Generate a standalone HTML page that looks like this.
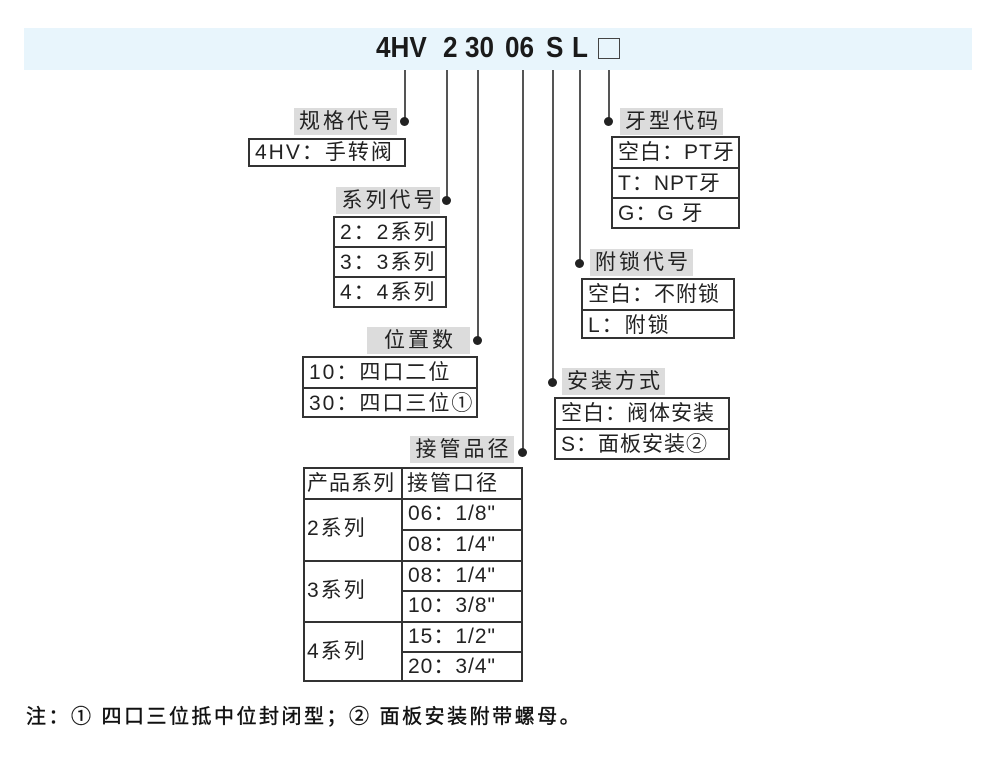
<!DOCTYPE html>
<html><head><meta charset="utf-8"><style>
body{margin:0;width:994px;height:769px;background:#fff;position:relative;overflow:hidden;font-family:"Liberation Sans","Noto Sans CJK SC",sans-serif;color:#222}
div{position:absolute;box-sizing:border-box}
.h{top:30px;font-weight:bold;font-size:29px;line-height:36px;color:#1a1a1a;transform-origin:left;transform:scaleX(0.9)}
.v{width:2px;background:#555}
.dot{width:9px;height:9px;border-radius:50%;background:#222}
.lab{background:#dcdcdc;font-size:21px;line-height:27px;text-align:center;letter-spacing:3px;padding-left:3px}
.box{border:2px solid #333;background:#fff}
.r{position:absolute;left:0;right:0;font-size:21px;line-height:29px;padding-left:5px;white-space:nowrap;border-top:2px solid #333;letter-spacing:2px}
.r.f{border-top:none}
.t{letter-spacing:1px}
</style></head><body>
<div style="left:24px;top:28px;width:948px;height:42px;background:#e8f5fc"></div>
<div class="h" style="left:376px">4HV</div>
<div class="h" style="left:443px">2</div>
<div class="h" style="left:465px">30</div>
<div class="h" style="left:505px">06</div>
<div class="h" style="left:546px">S</div>
<div class="h" style="left:572px">L</div>
<div style="left:598px;top:38px;width:22px;height:21px;border:1.5px solid #444"></div>

<div class="v" style="left:404px;top:70px;height:51px"></div>
<div class="v" style="left:446px;top:70px;height:130px"></div>
<div class="v" style="left:477px;top:70px;height:270px"></div>
<div class="v" style="left:522px;top:70px;height:382px"></div>
<div class="v" style="left:552px;top:70px;height:312px"></div>
<div class="v" style="left:579px;top:70px;height:193px"></div>
<div class="v" style="left:608px;top:70px;height:51px"></div>

<div class="dot" style="left:400px;top:117px"></div>
<div class="dot" style="left:442px;top:196px"></div>
<div class="dot" style="left:473px;top:336px"></div>
<div class="dot" style="left:518px;top:448px"></div>
<div class="dot" style="left:548px;top:378px"></div>
<div class="dot" style="left:575px;top:259px"></div>
<div class="dot" style="left:604px;top:117px"></div>

<div class="lab" style="left:294px;top:108px;width:103px">规格代号</div>
<div class="box" style="left:248px;top:138px;width:158px;height:29px"><div class="r f" style="line-height:25px">4HV：手转阀</div></div>

<div class="lab" style="left:336px;top:187px;width:104px">系列代号</div>
<div class="box" style="left:333px;top:216px;width:114px;height:92px">
<div class="r f" style="top:0">2：2系列</div><div class="r" style="top:28px">3：3系列</div><div class="r" style="top:58px">4：4系列</div></div>

<div class="lab" style="left:367px;top:327px;width:103px">位置数</div>
<div class="box" style="left:302px;top:356px;width:176px;height:62px">
<div class="r f" style="top:0">10：四口二位</div><div class="r" style="top:29px">30：四口三位①</div></div>

<div class="lab" style="left:410px;top:436px;width:104px">接管品径</div>
<div class="box" style="left:303px;top:467px;width:220px;height:215px">
<div style="left:96px;top:0;width:2px;height:213px;background:#333"></div>
<div class="r f" style="top:0;left:0;width:96px;padding-left:2px;letter-spacing:1px">产品系列</div>
<div class="r f" style="top:0;left:98px;padding-left:4px">接管口径</div>
<div class="r" style="top:29px;left:0;width:96px;height:62px;line-height:58px;padding-left:2px">2系列</div>
<div class="r" style="top:91px;left:0;width:96px;height:61px;line-height:58px;padding-left:2px">3系列</div>
<div class="r" style="top:152px;left:0;width:96px;height:61px;line-height:58px;padding-left:2px">4系列</div>
<div class="r t" style="top:29px;left:98px;line-height:28px">06：1/8"</div>
<div class="r t" style="top:60px;left:98px;line-height:28px">08：1/4"</div>
<div class="r t" style="top:91px;left:98px;line-height:28px">08：1/4"</div>
<div class="r t" style="top:121px;left:98px;line-height:28px">10：3/8"</div>
<div class="r t" style="top:152px;left:98px;line-height:28px">15：1/2"</div>
<div class="r t" style="top:182px;left:98px;line-height:28px">20：3/4"</div>
</div>

<div class="lab" style="left:562px;top:368px;width:103px">安装方式</div>
<div class="box" style="left:554px;top:397px;width:176px;height:63px">
<div class="r f" style="top:0;letter-spacing:1px">空白：阀体安装</div><div class="r" style="top:29px;letter-spacing:1px">S：面板安装②</div></div>

<div class="lab" style="left:590px;top:249px;width:103px">附锁代号</div>
<div class="box" style="left:581px;top:278px;width:154px;height:61px">
<div class="r f" style="top:0;letter-spacing:1px">空白：不附锁</div><div class="r" style="top:29px">L：附锁</div></div>

<div class="lab" style="left:620px;top:108px;width:103px">牙型代码</div>
<div class="box" style="left:611px;top:136px;width:129px;height:93px">
<div class="r f" style="top:0;letter-spacing:1px">空白：PT牙</div><div class="r" style="top:29px;letter-spacing:1px">T：NPT牙</div><div class="r" style="top:59px;letter-spacing:1px">G：G 牙</div></div>

<div style="left:26px;top:703px;font-size:20px;letter-spacing:2.5px;line-height:28px;white-space:nowrap;color:#111;-webkit-text-stroke:0.4px #111">注：① 四口三位抵中位封闭型；② 面板安装附带螺母。</div>
</body></html>
